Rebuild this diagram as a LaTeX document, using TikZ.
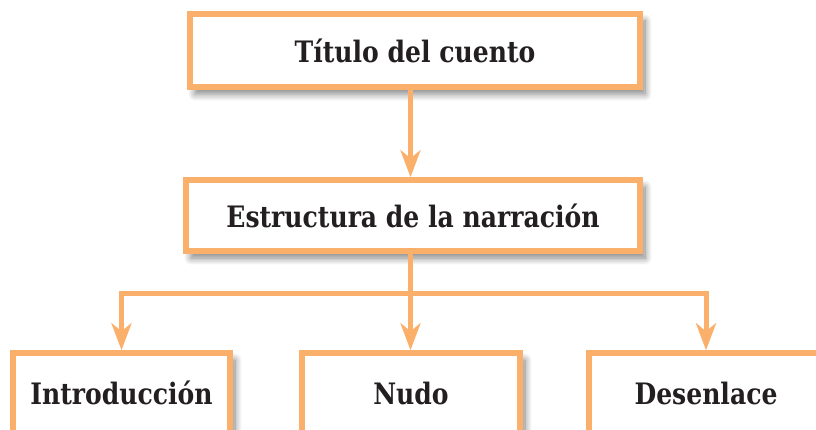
\documentclass[tikz,border=0pt]{standalone}
\usepackage{fontspec}
\newfontfamily\lblfont[FakeStretch=0.85]{DejaVu Serif}
\usetikzlibrary{arrows.meta,shadows.blur}
\definecolor{org}{RGB}{250,176,106}
\definecolor{ink}{RGB}{35,31,32}
\begin{document}
\begin{tikzpicture}[x=1pt,y=-1pt,
  box/.style={draw=org, line width=5.5pt, fill=white, inner sep=0pt,
    font=\lblfont\bfseries\fontsize{29.5}{34}\selectfont, text=ink,
    blur shadow={shadow xshift=5pt, shadow yshift=-7pt, shadow blur steps=12, shadow blur radius=7pt, shadow opacity=50}},
  conn/.style={draw=org, line width=5pt},
  arr/.style={conn, -{Stealth[length=27pt,width=20pt,inset=8pt]}}]
\useasboundingbox (0,0) rectangle (816,430);
\clip (0,0) rectangle (816,430);
\node[box, minimum width=450, minimum height=73] (title) at (415,50.5) {Título del cuento};
\node[box, minimum width=454, minimum height=71] (mid) at (413,215.5) {Estructura de la narración};
\node[box, minimum width=217, minimum height=80] (intro) at (121.5,393) {Introducción};
\node[box, minimum width=218, minimum height=80] (nudo) at (411,393) {Nudo};
\node[box, minimum width=234, minimum height=80] (desen) at (706,393) {Desenlace};
\coordinate (hub) at (410.5,293);
\draw[arr] (title.south -| hub) -- (mid.north -| hub);
\draw[conn] (mid.south -| hub) -- (hub);
\draw[arr] (hub) -| (intro.north);
\draw[arr] (hub) -- (hub |- nudo.north);
\draw[arr] (hub) -| (desen.north);
\end{tikzpicture}
\end{document}
